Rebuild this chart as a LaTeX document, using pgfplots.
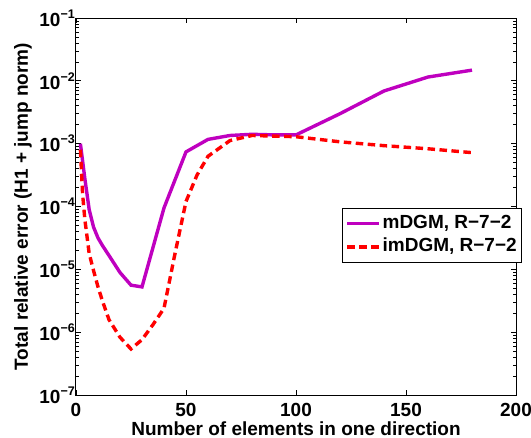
\documentclass[border=0pt]{standalone}
\usepackage{pgfplots}
\pgfplotsset{compat=1.18}
\usepackage{fontspec}
\setmainfont{Liberation Sans}
\definecolor{mag}{rgb}{0.75,0,0.75}
\newcommand{\bigf}{\fontsize{19bp}{22bp}\selectfont\bfseries}
\begin{document}
\bigf
\begin{tikzpicture}
\begin{axis}[
  scale only axis, width=440bp, height=377bp,
  at={(0,0)}, anchor=south west,
  xmin=0, xmax=200, ymin=1e-7, ymax=1e-1,
  ymode=log, log basis y=10,
  xtick={0,50,100,150,200},
  xticklabels={0,50,100,150,200},
  yticklabel={\pgfmathtruncatemacro{\e}{abs(\tick)}10\raisebox{0.42em}{\fontsize{12.5bp}{14bp}\selectfont\bfseries −\e}},
  tick align=inside,
  axis line style={line width=1bp},
  every tick/.style={black, line width=0.7bp},
  major tick length=5bp, minor tick length=3bp,
  tick label style={font=\bigf},
  xticklabel style={inner ysep=0.5bp, yshift=-7.8bp},
  yticklabel style={inner xsep=1bp},
  label style={font=\bigf},
  xlabel={Number of elements in one direction},
  ylabel={Total relative error (H1 + jump norm)},
  xlabel style={at={(rel axis cs:0.5,-0.1075)}, anchor=base, inner ysep=0bp},
  ylabel style={at={(rel axis cs:-0.1205,0.5)}, anchor=center},
  legend style={at={(rel axis cs:1.013,0.496)}, anchor=north east, draw=black, line width=1bp,
    font=\bigf, inner xsep=3bp, inner ysep=3.5bp, row sep=0.5bp, column sep=0bp,
    nodes={inner xsep=1.5bp, inner ysep=2bp, text height=14bp, text depth=5bp}},
  legend cell align=left,
  legend image code/.code={\draw[#1] (0bp,0bp) -- (32bp,0bp);},
]
\addplot[mag, line width=3.4bp] coordinates {
(2,1.0e-3) (4,2.82e-4) (6,8.9e-5) (8,4.68e-5) (10,3.16e-5) (12,2.4e-5) (15,1.66e-5)
(20,8.9e-6) (25,5.6e-6) (30,5.25e-6) (40,9.5e-5) (50,7.4e-4) (60,1.17e-3) (70,1.35e-3)
(80,1.41e-3) (90,1.38e-3) (100,1.38e-3) (120,3.0e-3) (140,6.9e-3) (160,1.15e-2) (180,1.48e-2)
};
\addlegendentry{mDGM, R−7−2}
\addplot[red, line width=3.4bp, dash pattern=on 7.5bp off 4.5bp] coordinates {
(2,8.0e-4) (3,1.58e-4) (4,6.3e-5) (6,1.78e-5) (8,9.5e-6) (10,5.25e-6) (12,3.16e-6)
(15,1.58e-6) (20,8.3e-7) (25,5.4e-7) (30,7.6e-7) (35,1.32e-6) (40,2.4e-6) (45,1.78e-5)
(50,1.2e-4) (55,3.16e-4) (60,6.3e-4) (70,1.12e-3) (80,1.35e-3) (100,1.29e-3)
(120,1.07e-3) (140,9.3e-4) (160,8.3e-4) (180,7.2e-4)
};
\addlegendentry{imDGM, R−7−2}
\end{axis}
\pgfresetboundingbox
\path[use as bounding box] (-76bp,-43bp) rectangle (455bp,395bp);
\end{tikzpicture}
\end{document}
